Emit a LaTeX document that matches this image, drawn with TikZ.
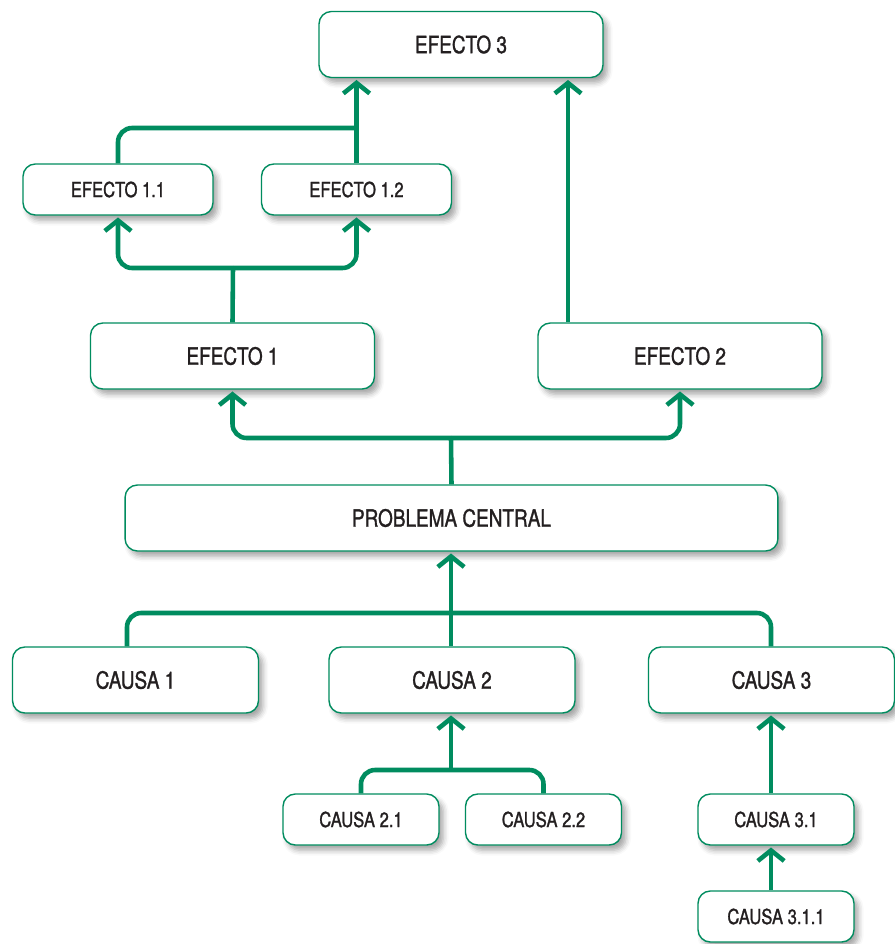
\documentclass[tikz,border=0pt]{standalone}
\usepackage{fontspec}
\setmainfont{TeX Gyre Heros}[FakeStretch=0.8,FakeBold=1.2]
\usetikzlibrary{arrows.meta,shadows.blur}
\definecolor{verde}{RGB}{0,140,95}
\definecolor{texto}{RGB}{35,31,32}
\tikzset{
	caja/.style={shape=rectangle, rounded corners=7pt, draw=verde, line width=0.8pt, fill=white,
		text=texto, font=\fontsize{13.5}{16}\selectfont, minimum height=1.32cm, inner sep=0pt,
		blur shadow={shadow xshift=2.5pt, shadow yshift=-3pt, shadow blur radius=3pt, shadow opacity=35}},
	cajita/.style={caja, font=\fontsize{11.8}{14}\selectfont, minimum height=1.02cm},
	linea/.style={draw=verde, line width=2.6pt, rounded corners=8pt},
	flecha/.style={linea, -{Straight Barb[length=6pt,width=15pt]}, shorten >=1pt}
}
\begin{document}
\begin{tikzpicture}[x=0.02cm,y=-0.02cm]
	\useasboundingbox (0,0) rectangle (895,944);
	% efectos
	\draw (461,44.5) node[caja, minimum width=5.68cm](e3){EFECTO 3};
	\draw (118,189.5) node[cajita, minimum width=3.8cm](e11){EFECTO 1.1};
	\draw (356.5,189.5) node[cajita, minimum width=3.8cm](e12){EFECTO 1.2};
	\draw (232.5,356) node[caja, minimum width=5.68cm](e1){EFECTO 1};
	\draw (680,356) node[caja, minimum width=5.68cm](e2){EFECTO 2};
	% problema
	\draw (451.5,518) node[caja, minimum width=13.06cm](pc){PROBLEMA CENTRAL};
	% causas
	\draw (135.5,680) node[caja, minimum width=4.92cm](c1){CAUSA 1};
	\draw (452,680) node[caja, minimum width=4.92cm](c2){CAUSA 2};
	\draw (771.5,680) node[caja, minimum width=4.92cm](c3){CAUSA 3};
	\draw (361,819.5) node[cajita, minimum width=3.12cm](c21){CAUSA 2.1};
	\draw (543.5,819.5) node[cajita, minimum width=3.12cm](c22){CAUSA 2.2};
	\draw (776,819.5) node[cajita, minimum width=3.12cm](c31){CAUSA 3.1};
	\draw (776,916.5) node[cajita, minimum width=3.12cm](c311){CAUSA 3.1.1};
	
	\coordinate (j1) at (351,128);
	\coordinate (j2) at (233,268);
	\coordinate (j3) at (451,438);
	\coordinate (j4) at (451,613);
	\coordinate (j5) at (451,770);
	\coordinate (x2) at (568,0);
	\coordinate (x1) at (127,0);
	\coordinate (x3) at (771,0);
	
	\draw [linea](e11.north) |- (e12.north |- j1);
	\draw [flecha](e12.north) -- (e12.north |- e3.south);
	\draw [flecha](e2.north -| x2) -- (e3.south -| x2);
	\draw [linea](e1.north) -- (j2);
	\draw [flecha](j2) -| (e11.south);
	\draw [flecha](j2) -| (e12.south);
	\draw [linea](pc.north) -- (j3);
	\draw [flecha](j3) -| (e1.south);
	\draw [flecha](j3) -| (e2.south);
	\draw [linea](c1.north -| x1) |- (j4) -| (c3.north -| x3);
	\draw [flecha](c2.north -| j4) -- (pc.south -| j4);
	\draw [linea](c21.north) |- (j5) -| (c22.north);
	\draw [flecha](j5) -- (j5 |- c2.south);
	\draw [flecha](c31.north -| x3) -- (c3.south -| x3);
	\draw [flecha](c311.north -| x3) -- (c31.south -| x3);
\end{tikzpicture}
\end{document}
